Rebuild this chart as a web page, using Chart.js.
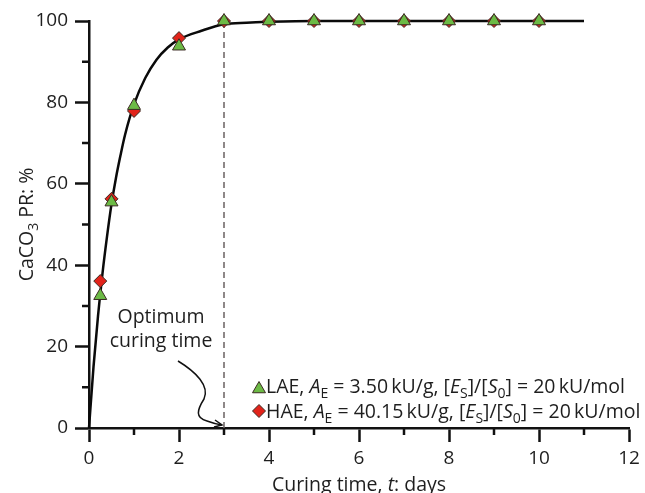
<!DOCTYPE html>
<html>
<head>
<meta charset="utf-8">
<script src="https://cdn.jsdelivr.net/npm/chart.js@4.4.1/dist/chart.umd.min.js"></script>
<style>
  html, body { margin: 0; padding: 0; background: #ffffff; }
  #wrap { width: 645px; height: 493px; position: relative; }
</style>
</head>
<body>
<div id="wrap"><canvas id="c" width="645" height="493"></canvas></div>
<script>
// ---- data ----
const laeTimes  = [0.25, 0.5, 1, 2, 3, 4, 5, 6, 7, 8, 9, 10];
const laeValues = [32.5, 55.5, 79.2, 93.8, 100, 100, 100, 100, 100, 100, 100, 100];
const haeTimes  = [0.25, 0.5, 1, 2, 3, 4, 5, 6, 7, 8, 9, 10];
const haeValues = [36.1, 56.3, 77.9, 95.8, 100, 100, 100, 100, 100, 100, 100, 100];
const fitTimes  = [0, 0.1, 0.2, 0.3, 0.4, 0.5, 0.6, 0.7, 0.8, 1.0, 1.25, 1.5, 1.75, 2.0, 2.5, 3.0, 3.5, 4.0, 5.0, 6.0, 8.0, 11.0];
const fitValues = [0, 15, 27.5, 38, 47, 55, 61.5, 67, 72, 79.5, 86, 90.5, 93.5, 95.5, 97.6, 99.2, 99.6, 99.8, 100, 100, 100, 100];
const optimumTime = 3;
const optimumRange = [0, 100];
const xTicks = [0, 2, 4, 6, 8, 10, 12];
const yTicks = [0, 20, 40, 60, 80, 100];
const xMinorTicks = [1, 3, 5, 7, 9, 11];
const yMinorTicks = [10, 30, 50, 70, 90];
const seriesLabels = ['LAE', 'HAE'];
const annotationLines = ['Optimum', 'curing time'];

const FONT = '"Open Sans", "DejaVu Sans", sans-serif';
const TEXT = '#1e1e1e';
const GREEN = '#6cba45';
const RED = '#e2231a';
const EDGE = '#3a2a22';

function pts(xs, ys) { return xs.map((x, i) => ({ x: x, y: ys[i] })); }

// rich text: segments {t, it, sub}
function richWidth(ctx, segs, size) {
  let w = 0;
  for (const s of segs) {
    const fs = s.sub ? size * 0.72 : size;
    ctx.font = (s.it ? 'italic ' : '') + fs + 'px ' + FONT;
    w += ctx.measureText(s.t).width;
  }
  return w;
}
function drawRich(ctx, segs, x, y, size) {
  ctx.textBaseline = 'alphabetic';
  ctx.textAlign = 'left';
  let cx = x;
  for (const s of segs) {
    const fs = s.sub ? size * 0.72 : size;
    ctx.font = (s.it ? 'italic ' : '') + fs + 'px ' + FONT;
    ctx.fillText(s.t, cx, s.sub ? y + size * 0.28 : y);
    cx += ctx.measureText(s.t).width;
  }
  return cx;
}

function triangle(ctx, x, y, r) {
  ctx.beginPath();
  for (let k = 0; k < 3; k++) {
    const a = k * 2 * Math.PI / 3;
    const px = x + Math.sin(a) * r, py = y - Math.cos(a) * r;
    if (k === 0) ctx.moveTo(px, py); else ctx.lineTo(px, py);
  }
  ctx.closePath();
}
function diamond(ctx, x, y, r) {
  ctx.beginPath();
  ctx.moveTo(x, y - r); ctx.lineTo(x + r, y); ctx.lineTo(x, y + r); ctx.lineTo(x - r, y);
  ctx.closePath();
}

const decor = {
  id: 'decor',
  afterDraw(chart) {
    const ctx = chart.ctx;
    const xs = chart.scales.x, ys = chart.scales.y;
    const ca = chart.chartArea;
    ctx.save();
    ctx.fillStyle = TEXT;
    ctx.strokeStyle = '#111';

    // minor ticks
    ctx.lineWidth = 2.5;
    ctx.beginPath();
    for (const v of xMinorTicks) {
      const px = xs.getPixelForValue(v);
      ctx.moveTo(px, ca.bottom); ctx.lineTo(px, ca.bottom + 7);
    }
    for (const v of yMinorTicks) {
      const py = ys.getPixelForValue(v);
      ctx.moveTo(ca.left, py); ctx.lineTo(ca.left - 7, py);
    }
    ctx.stroke();

    // axis titles
    const TS = 19.5;
    const xt = [{t: 'Curing time, '}, {t: 't', it: true}, {t: ': days'}];
    const xw = richWidth(ctx, xt, TS);
    drawRich(ctx, xt, (ca.left + ca.right) / 2 - xw / 2, 491, TS);

    const yt = [{t: 'CaCO'}, {t: '3', sub: true}, {t: ' PR: %'}];
    const yw = richWidth(ctx, yt, TS);
    ctx.save();
    ctx.translate(33, (ca.top + ca.bottom) / 2);
    ctx.rotate(-Math.PI / 2);
    drawRich(ctx, yt, -yw / 2, 0, TS);
    ctx.restore();

    // annotation text
    const ax = xs.getPixelForValue(optimumTime), ay = ys.getPixelForValue(0);
    ctx.font = TS + 'px ' + FONT;
    ctx.textAlign = 'center';
    ctx.textBaseline = 'middle';
    ctx.fillText(annotationLines[0], ax - 63, ay - 111);
    ctx.fillText(annotationLines[1], ax - 63, ay - 87);

    // curly arrow
    ctx.lineWidth = 1.5;
    ctx.strokeStyle = '#111';
    ctx.beginPath();
    ctx.moveTo(ax - 46, ay - 67);
    ctx.bezierCurveTo(ax - 28, ay - 56, ax - 14, ay - 42, ax - 20, ay - 29);
    ctx.bezierCurveTo(ax - 27, ay - 18, ax - 29, ay - 10, ax - 17, ay - 7);
    ctx.quadraticCurveTo(ax - 9, ay - 4, ax - 2, ay - 3);
    ctx.stroke();
    ctx.beginPath();
    ctx.moveTo(ax - 9, ay - 8);
    ctx.lineTo(ax - 2, ay - 3);
    ctx.lineTo(ax - 10, ay - 1);
    ctx.stroke();

    // legend
    const LS = 19.5;
    const L = [
      { mark: 'tri', segs: [{t: seriesLabels[0] + ', '}, {t: 'A', it: true}, {t: 'E', sub: true}, {t: ' = 3.50\u2009kU/g, ['}, {t: 'E', it: true}, {t: 'S', sub: true}, {t: ']/['}, {t: 'S', it: true}, {t: '0', sub: true}, {t: '] = 20\u2009kU/mol'}], y: 393 },
      { mark: 'dia', segs: [{t: seriesLabels[1] + ', '}, {t: 'A', it: true}, {t: 'E', sub: true}, {t: ' = 40.15\u2009kU/g, ['}, {t: 'E', it: true}, {t: 'S', sub: true}, {t: ']/['}, {t: 'S', it: true}, {t: '0', sub: true}, {t: '] = 20\u2009kU/mol'}], y: 418 }
    ];
    for (const it of L) {
      ctx.lineWidth = 1;
      ctx.strokeStyle = EDGE;
      if (it.mark === 'tri') { ctx.fillStyle = GREEN; triangle(ctx, 259, it.y - 4, 7.5); }
      else { ctx.fillStyle = RED; diamond(ctx, 259, it.y - 7, 6.5); }
      ctx.fill(); ctx.stroke();
      ctx.fillStyle = TEXT;
      drawRich(ctx, it.segs, 266, it.y, LS);
    }
    ctx.restore();
  }
};

new Chart(document.getElementById('c'), {
  type: 'scatter',
  data: {
    datasets: [
      {
        label: seriesLabels[0], data: pts(laeTimes, laeValues), order: 0, clip: false,
        pointStyle: 'triangle', pointRadius: 7.5, pointBackgroundColor: GREEN,
        pointBorderColor: EDGE, pointBorderWidth: 1, showLine: false
      },
      {
        label: seriesLabels[1], data: pts(haeTimes, haeValues), order: 1, clip: false,
        pointStyle: 'rectRot', pointRadius: 6.5, pointBackgroundColor: RED,
        pointBorderColor: EDGE, pointBorderWidth: 1, showLine: false
      },
      {
        label: 'fit', data: pts(fitTimes, fitValues), order: 2, clip: false,
        showLine: true, pointRadius: 0, borderColor: '#0a0a0a', borderWidth: 2.5,
        cubicInterpolationMode: 'monotone', fill: false
      },
      {
        label: 'optimum', data: optimumRange.map(v => ({ x: optimumTime, y: v })), order: 3,
        showLine: true, pointRadius: 0, borderColor: '#6a6262', borderWidth: 1.5,
        borderDash: [6, 4], fill: false
      }
    ]
  },
  options: {
    responsive: false,
    animation: false,
    events: [],
    layout: { padding: { left: 0, right: 16, top: 21, bottom: 0 } },
    plugins: { legend: { display: false }, tooltip: { enabled: false } },
    scales: {
      x: {
        type: 'linear', min: 0, max: 12,
        afterFit(s) { s.height = 65; },
        afterBuildTicks(s) { s.ticks = xTicks.map(v => ({ value: v })); },
        border: { color: '#111', width: 2.5 },
        grid: { drawOnChartArea: false, drawTicks: true, tickLength: 14, tickWidth: 2.5, tickColor: '#111' },
        ticks: { color: TEXT, font: { family: FONT, size: 19 }, padding: 5, maxRotation: 0 }
      },
      y: {
        type: 'linear', min: 0, max: 100,
        afterFit(s) { s.width = 89; },
        afterBuildTicks(s) { s.ticks = yTicks.map(v => ({ value: v })); },
        border: { color: '#111', width: 2.5 },
        grid: { drawOnChartArea: false, drawTicks: true, tickLength: 14, tickWidth: 2.5, tickColor: '#111' },
        ticks: { color: TEXT, font: { family: FONT, size: 19 }, padding: 7 }
      }
    }
  },
  plugins: [decor]
});
</script>
</body>
</html>
